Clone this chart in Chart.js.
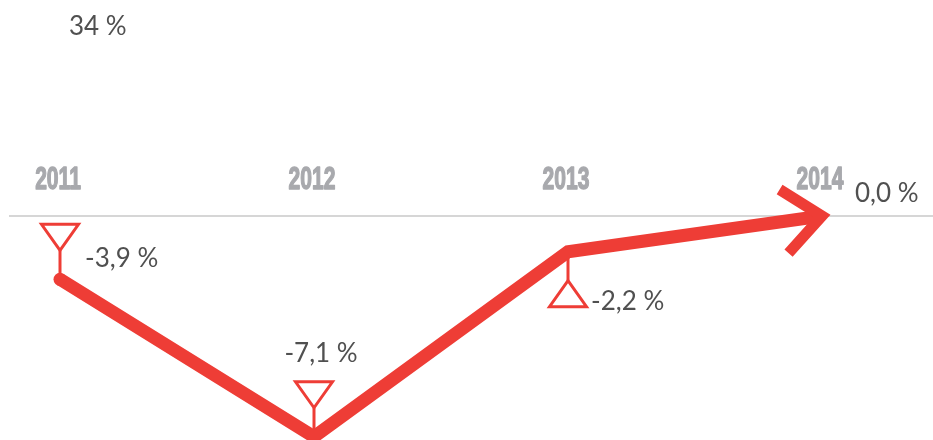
<!DOCTYPE html>
<html>
<head>
<meta charset="utf-8">
<script src="https://cdn.jsdelivr.net/npm/chart.js@4.4.1/dist/chart.umd.min.js"></script>
<style>
  html, body { margin: 0; padding: 0; background: #ffffff; }
  #wrap { width: 933px; height: 440px; }
</style>
</head>
<body>
<div id="wrap"><canvas id="c" width="933" height="440"></canvas></div>
<script>
// ---- data ----
const years = [2011, 2012, 2013, 2014];
const changeValues = [-3.9, -7.1, -2.2, 0.0];          // annual change, %
const changeLabels = ['-3,9 %', '-7,1 %', '-2,2 %', '0,0 %'];
const lineLevels = [-3.9, -13.6, -2.2, 0.0];           // level at which the line is drawn in the picture
const markerDirections = ['down', 'down', 'up', null];
const cornerNote = '34 %';

const RED = '#ee3d36';
const TEXT = '#505050';
const YEAR_GREY = '#a8a9ad';

const decorPlugin = {
  id: 'decor',
  beforeDatasetsDraw(chart) {
    const ctx = chart.ctx;
    const pts = chart.getDatasetMeta(0).data;
    ctx.save();
    // year labels (condensed) on the x scale
    const xs = chart.scales.x;
    ctx.fillStyle = YEAR_GREY;
    ctx.strokeStyle = YEAR_GREY;
    ctx.lineWidth = 1.4;
    ctx.lineJoin = 'round';
    ctx.font = 'bold 31px "Liberation Sans", Arial, sans-serif';
    ctx.textAlign = 'center';
    ctx.textBaseline = 'alphabetic';
    years.forEach(y => {
      const px = xs.getPixelForValue(y);
      ctx.save();
      ctx.translate(px - 2, xs.top - 27);
      ctx.scale(0.68, 1);
      ctx.fillText(String(y), 0, 0);
      ctx.strokeText(String(y), 0, 0);
      ctx.restore();
    });
    // markers
    ctx.strokeStyle = RED;
    ctx.lineWidth = 3;
    ctx.lineJoin = 'miter';
    const stem = 29, th = 26, tw = 37;
    pts.forEach((p, i) => {
      const dir = markerDirections[i];
      if (!dir) return;
      const s = dir === 'down' ? -1 : 1;
      const apexY = p.y + s * stem;
      const baseY = apexY + s * th;
      ctx.beginPath();
      ctx.moveTo(p.x, p.y);
      ctx.lineTo(p.x, apexY);
      ctx.stroke();
      ctx.beginPath();
      ctx.moveTo(p.x, apexY);
      ctx.lineTo(p.x - tw / 2, baseY);
      ctx.lineTo(p.x + tw / 2, baseY);
      ctx.closePath();
      ctx.stroke();
    });
    ctx.restore();
  },
  afterDatasetsDraw(chart) {
    const ctx = chart.ctx;
    const pts = chart.getDatasetMeta(0).data;
    ctx.save();
    // round start cap
    ctx.fillStyle = RED;
    ctx.beginPath();
    ctx.arc(pts[0].x, pts[0].y, 6.5, 0, Math.PI * 2);
    ctx.fill();
    // arrow head at the end
    const a = pts[pts.length - 2], b = pts[pts.length - 1];
    const back = Math.atan2(a.y - b.y, a.x - b.x);
    const len = 50, spread = 40 * Math.PI / 180;
    ctx.strokeStyle = RED;
    ctx.lineWidth = 11;
    ctx.lineJoin = 'miter';
    ctx.lineCap = 'butt';
    ctx.beginPath();
    ctx.moveTo(b.x + len * Math.cos(back + spread), b.y + len * Math.sin(back + spread));
    ctx.lineTo(b.x, b.y);
    ctx.lineTo(b.x + len * Math.cos(back - spread), b.y + len * Math.sin(back - spread));
    ctx.stroke();
    // value labels
    ctx.fillStyle = TEXT;
    ctx.font = '26px Lato, "Open Sans", sans-serif';
    ctx.textBaseline = 'middle';
    const place = [
      { dx: 25, dy: -21, align: 'left' },
      { dx: 7, dy: -83, align: 'center' },
      { dx: 23, dy: 50, align: 'left' },
      { dx: 33, dy: -22, align: 'left' }
    ];
    pts.forEach((p, i) => {
      ctx.textAlign = place[i].align;
      ctx.fillText(changeLabels[i], p.x + place[i].dx, p.y + place[i].dy);
    });
    // corner note
    ctx.textAlign = 'left';
    ctx.fillText(cornerNote, 69, 27);
    ctx.restore();
  }
};

new Chart(document.getElementById('c'), {
  type: 'line',
  data: {
    datasets: [{
      data: years.map((y, i) => ({ x: y, y: lineLevels[i] })),
      borderColor: RED,
      borderWidth: 13,
      borderJoinStyle: 'miter',
      borderCapStyle: 'butt',
      pointRadius: 0,
      pointHoverRadius: 0,
      fill: false,
      tension: 0,
      clip: false
    }]
  },
  options: {
    responsive: false,
    animation: false,
    events: [],
    layout: { padding: { left: 10, right: 0, bottom: 0, top: 216 } },
    plugins: { legend: { display: false }, tooltip: { enabled: false }, title: { display: false } },
    scales: {
      x: {
        type: 'linear',
        position: 'top',
        min: 2011 - 50 / 254,
        max: 2014 + 111 / 254,
        afterBuildTicks: s => { s.ticks = years.map(v => ({ value: v })); },
        grid: { display: false, drawTicks: false },
        border: { display: true, color: '#d6d6d6', width: 2 },
        ticks: { display: false }
      },
      y: {
        display: false,
        min: -13.8,
        max: 0
      }
    }
  },
  plugins: [decorPlugin]
});
</script>
</body>
</html>
